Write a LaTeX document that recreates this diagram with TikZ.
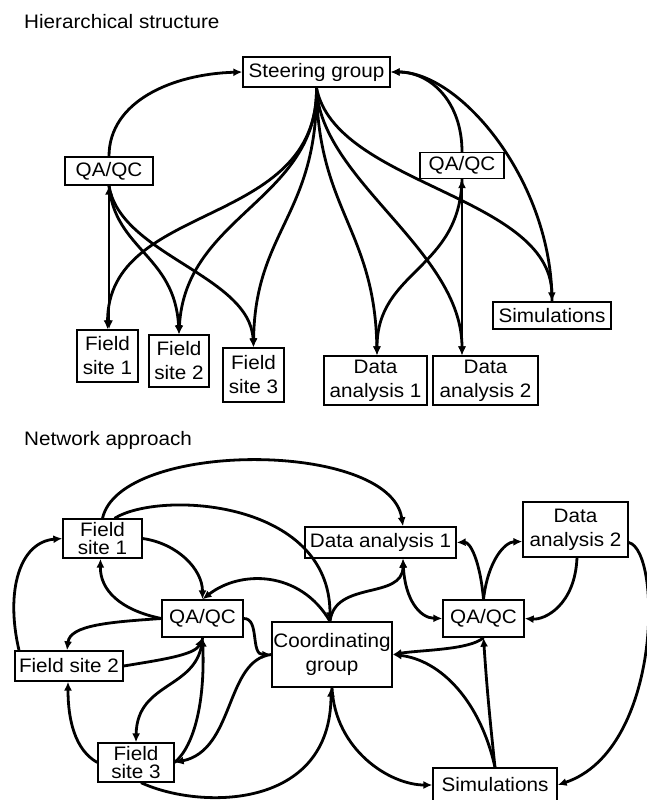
\documentclass[tikz,border=0pt]{standalone}
\usepackage{fontspec}
\setmainfont{Liberation Sans}[FakeStretch=1.06]
\usetikzlibrary{arrows.meta}

\begin{document}
\begin{tikzpicture}[x=1pt,y=-1pt,
  box/.style={draw, line width=1.3pt, inner sep=0pt, align=center,
    font=\fontsize{19.5}{24}\selectfont},
  tight/.style={font=\fontsize{19.5}{18}\selectfont},
  conn/.style={line width=2.8pt, -{Latex[length=9pt,width=8pt]}},
  both/.style={line width=2.8pt, {Latex[length=9pt,width=8pt]}-{Latex[length=9pt,width=8pt]}},
  title/.style={anchor=base west, inner sep=0pt, font=\fontsize{19.5}{24}\selectfont}]
\useasboundingbox (0,0) rectangle (646,800);

% ---------------- Hierarchical structure ----------------
\node[title] (t1) at (24,29) {Hierarchical structure};

\node[box, minimum width=147pt, minimum height=30pt] (steer) at (316.5,72) {Steering group};
\node[box, minimum width=88pt, minimum height=28pt] (qaL) at (109,171) {QA/QC};
\node[box, minimum width=84pt, minimum height=26pt] (qaR) at (462,165.5) {QA/QC};
\node[box, minimum width=61pt, minimum height=52pt] (fs1) at (107.5,356) {Field\\site 1};
\node[box, minimum width=60pt, minimum height=52pt] (fs2) at (179,361) {Field\\site 2};
\node[box, minimum width=61pt, minimum height=54pt] (fs3) at (253.5,375) {Field\\site 3};
\node[box, minimum width=103pt, minimum height=49pt] (da1) at (375.5,380.5) {Data\\analysis 1};
\node[box, minimum width=105pt, minimum height=49pt] (da2) at (485.5,380.5) {Data\\analysis 2};
\node[box, minimum width=118pt, minimum height=27pt] (sim) at (552,315.5) {Simulations};

\draw[conn] (qaL.north) .. controls +(0,-55) and +(-70,2) .. (steer.west);
\draw[conn] (steer.south) .. controls (318,230) and (108,200) .. (fs1.north);
\draw[conn] (steer.south) .. controls (318,200) and (185,215) .. (fs2.north);
\draw[conn] (steer.south) .. controls (318,215) and (255,230) .. (fs3.north);
\draw[conn] (steer.south) .. controls (318,210) and (375,230) .. ([xshift=1.5pt]da1.north);
\draw[conn] (steer.south) .. controls (320,180) and (462,250) .. (qaR.south |- da2.north);
\draw[conn] (steer.south) .. controls (335,185) and (550,195) .. (sim.north);
\draw[conn] (qaR.north) .. controls +(0,-50) and +(40,0) .. (steer.east);
\draw[conn] (sim.north) .. controls +(0,-120) and +(70,0) .. (steer.east);
\draw[both] (qaR.south) -- (qaR.south |- da2.north);
\draw[conn] (qaR.south) .. controls (460,270) and (377,270) .. ([xshift=1.5pt]da1.north);
\draw[both] (qaL.south) -- (qaL.south |- fs1.north);
\draw[conn] (qaL.south) .. controls (115,250) and (175,255) .. (fs2.north);
\draw[conn] (qaL.south) .. controls (120,255) and (250,275) .. (fs3.north);

% ---------------- Network approach ----------------
\node[title] (t2) at (24,445) {Network approach};

\node[box, tight, minimum width=79pt, minimum height=39pt] (nfs1) at (102.5,538.5) {Field\\site 1};
\node[box, minimum width=81pt, minimum height=37pt] (nqa) at (202.5,618.5) {QA/QC};
\node[box, minimum width=108pt, minimum height=30pt] (nfs2) at (69,666) {Field site 2};
\node[box, tight, minimum width=76pt, minimum height=39pt] (nfs3) at (136,762.5) {Field\\site 3};
\node[box, minimum width=120pt, minimum height=65pt] (coord) at (332,654.5) {Coordinating\\group};
\node[box, minimum width=151pt, minimum height=31pt] (nda1) at (380.5,542.5) {Data analysis 1};
\node[box, minimum width=81pt, minimum height=37pt] (nqa2) at (483.5,618.5) {QA/QC};
\node[box, minimum width=105pt, minimum height=55pt] (nda2) at (575.5,529.5) {Data\\analysis 2};
\node[box, minimum width=124pt, minimum height=34pt] (nsim) at (495,785) {Simulations};

\draw[conn] (nfs1.north) .. controls (120,440) and (390,440) .. ([xshift=22.5pt]nda1.north);
\draw[conn] ([xshift=12pt]nfs1.north) .. controls (160,490) and (330,500) .. ([xshift=-2pt]coord.north);
\draw[conn] (nfs1.east) .. controls +(35,5) and +(0,-30) .. (nqa.north);
\draw[conn] ([xshift=-2pt]coord.north) .. controls (300,570) and (240,570) .. (nqa.north);
\draw[conn] (nqa.west) .. controls (120,610) and (100,590) .. ([xshift=-2pt]nfs1.south);
\draw[conn] (nqa.west) .. controls (110,622) and (70,625) .. ([xshift=-2pt]nfs2.north);
\draw[conn] ([xshift=-50pt]nfs2.north) .. controls (5,590) and (20,542) .. (nfs1.west);
\draw[conn] (nfs2.east) .. controls (160,660) and (195,655) .. (nqa.south);
\draw[conn] (nfs3.west) .. controls (75,750) and (68,720) .. ([xshift=-1pt]nfs2.south);
\draw[conn] (nqa.south) .. controls (200,690) and (137,680) .. (nfs3.north);
\draw[conn] (nfs3.east) .. controls (195,745) and (205,700) .. (nqa.south);
\draw[conn] (coord.west) .. controls (225,660) and (235,750) .. (nfs3.east);
\draw[conn] (nqa.east) .. controls (260,618) and (250,655) .. (coord.west);
\draw[conn] ([xshift=5pt]nfs3.south) .. controls (200,810) and (331,810) .. ([xshift=-1pt]coord.south);
\draw[conn] (coord.south) .. controls (335,750) and (390,785) .. (nsim.west);
\draw[conn] ([xshift=-2pt]coord.north) .. controls (335,580) and (403,600) .. ([xshift=22.5pt]nda1.south);
\draw[both] ([xshift=22.5pt]nda1.south) .. controls (405,600) and (420,618) .. (nqa2.west);
\draw[conn] (nqa2.north) .. controls (480,560) and (470,542) .. (nda1.east);
\draw[conn] (nqa2.north) .. controls (488,560) and (505,542) .. ([yshift=-12pt]nda2.west);
\draw[conn] ([xshift=1.5pt]nda2.south) .. controls (575,605) and (545,620) .. (nqa2.east);
\draw[conn] ([yshift=-13pt]nda2.east) .. controls (662,550) and (662,750) .. (nsim.east);
\draw[conn] (nqa2.south) .. controls (470,650) and (420,650) .. (coord.east);
\draw[conn] (nsim.north) .. controls (490,720) and (487,690) .. (nqa2.south);
\draw[conn] (nsim.north) .. controls (480,700) and (440,660) .. (coord.east);
\end{tikzpicture}
\end{document}
